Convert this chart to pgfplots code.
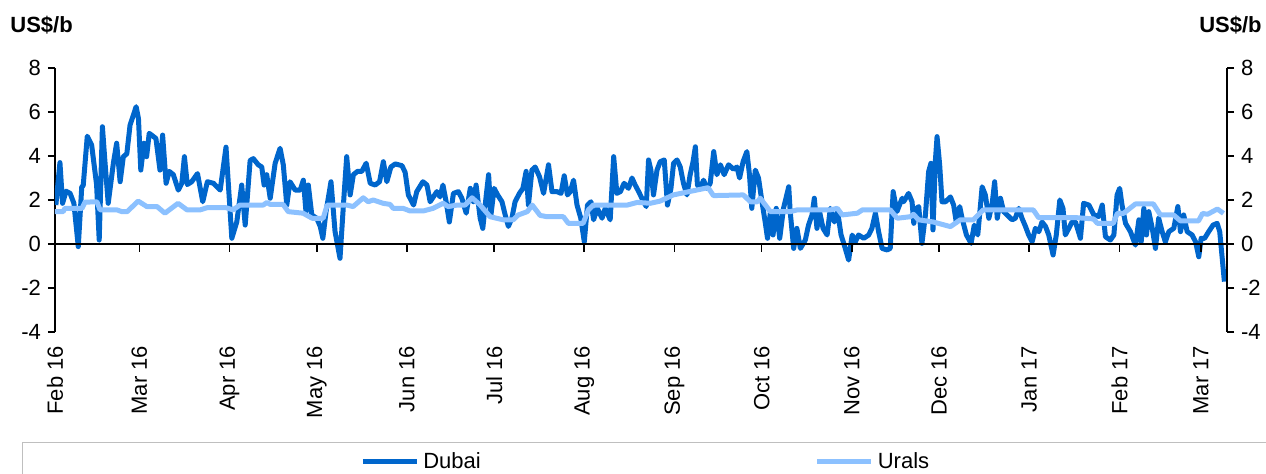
\documentclass[border=0pt]{standalone}
\usepackage{pgfplots}
\usepackage{pgfplotstable}
\pgfplotsset{compat=1.18}
\usepackage{fontspec}
\setmainfont{Liberation Sans}

\definecolor{dubaiblue}{RGB}{0,102,204}
\definecolor{uralsblue}{RGB}{140,193,255}

% day = days since 1 Feb 2016, val = US$/b
\pgfplotstableread{
day val
0.3 1.77
1.7 3.7
2.6 1.85
3.8 2.4
5.2 2.3
6.5 1.85
8.0 -0.12
9.2 2.6
9.7 2.65
11.1 4.9
12.6 4.5
14.3 2.7
15.2 0.18
16.3 5.33
17.2 3.7
18.3 1.85
20.1 3.7
21.2 4.58
22.4 2.83
23.5 3.97
24.7 4.1
25.8 5.4
27.9 6.24
28.7 5.7
29.5 3.36
30.6 4.58
31.5 3.97
32.4 5.03
34.7 4.8
36.1 3.36
37.0 4.95
38.2 2.76
39.3 3.3
40.7 3.15
42.4 2.45
43.6 2.76
44.5 3.97
45.5 2.7
47.0 2.83
49.0 3.2
50.8 1.92
52.4 2.83
54.5 2.76
56.8 2.45
58.8 4.4
60.8 0.26
62.5 1.0
64.2 2.68
65.4 0.86
67.1 3.8
68.2 3.88
69.9 3.6
71.1 3.5
71.9 2.68
72.8 3.15
74.0 2.08
75.7 3.67
77.4 4.35
78.5 3.6
79.7 1.77
80.8 2.83
82.6 2.45
84.3 2.45
85.4 2.9
86.3 1.47
87.1 2.68
88.3 1.32
90.0 1.17
91.2 0.8
92.1 0.26
93.2 1.47
94.9 2.83
96.3 0.56
98.0 -0.65
99.4 2.23
100.3 3.97
101.5 2.23
102.6 3.15
104.0 3.3
105.5 3.3
107.0 3.67
108.4 2.76
110.1 2.68
111.6 2.83
112.9 3.74
114.1 2.83
115.5 3.5
117.0 3.64
119.3 3.56
120.4 3.26
121.5 2.23
123.3 1.77
124.4 2.38
126.5 2.83
127.9 2.68
129.0 1.92
130.1 2.14
131.3 2.38
132.4 2.14
133.4 2.68
134.5 1.92
135.6 1.0
137.0 2.3
138.7 2.38
139.9 2.08
141.4 1.4
142.8 2.53
143.9 1.92
144.8 2.68
146.2 1.17
147.1 0.71
148.3 2.23
149.1 3.15
149.9 1.32
151.0 2.53
152.2 2.23
153.7 1.92
154.8 1.32
155.9 0.8
157.1 1.17
158.2 1.92
159.7 2.3
160.9 2.53
162.0 3.3
162.8 1.77
164.0 3.36
165.1 3.5
166.6 3.06
168.0 2.3
169.7 3.6
170.9 2.38
172.6 2.38
174.0 2.3
175.1 3.1
176.2 2.23
177.2 2.38
178.3 2.9
179.5 1.77
180.8 1.17
182.0 0.1
183.1 1.77
184.3 1.92
185.2 1.1
186.5 1.62
188.1 1.17
189.2 1.62
190.9 1.1
192.1 3.97
193.2 2.3
194.4 2.38
195.7 2.76
197.2 2.53
198.4 3.0
199.5 2.68
200.7 2.38
201.8 2.08
203.3 1.7
204.1 3.82
204.9 3.36
205.8 2.23
207.0 3.36
208.1 3.74
209.5 3.82
210.6 1.77
211.8 2.53
212.7 3.67
213.9 3.82
215.0 3.5
216.1 2.76
217.3 2.23
218.4 3.15
219.4 3.74
220.2 4.42
220.9 2.68
221.9 2.53
223.0 2.9
224.2 2.53
225.3 2.76
226.5 4.2
227.6 3.15
228.8 3.6
230.1 3.15
231.6 3.6
233.3 3.4
234.5 3.5
235.4 3.0
236.6 3.74
237.9 4.2
238.8 3.15
239.6 1.62
240.8 3.36
241.9 3.0
243.1 1.92
244.2 1.0
245.0 0.26
246.0 1.47
246.9 0.41
248.0 1.62
249.2 0.26
250.5 1.62
252.3 2.6
252.8 1.47
254.0 -0.2
255.1 0.71
256.3 -0.2
258.0 0.18
259.1 0.86
260.3 1.32
261.1 2.08
262.0 0.71
262.9 1.47
264.1 0.71
265.5 0.41
266.6 1.62
268.0 1.0
269.1 1.47
270.3 0.41
271.4 -0.05
272.9 -0.73
274.1 0.41
275.2 0.1
276.3 0.41
278.1 0.26
279.8 0.41
280.9 0.71
282.1 1.4
283.2 0.56
284.4 -0.2
286.1 -0.27
287.2 -0.2
288.2 2.38
289.5 1.47
291.3 2.08
291.8 1.92
293.5 2.3
294.7 1.92
295.3 0.94
296.2 1.62
297.0 1.7
298.1 0.03
299.3 1.32
300.4 3.29
301.2 3.67
301.9 0.64
302.7 3.74
303.3 4.88
304.2 3.6
305.0 1.92
306.2 1.92
307.9 2.14
309.0 1.77
309.9 1.0
311.1 1.7
311.9 1.17
313.4 0.41
315.0 0.03
316.1 0.86
317.3 0.41
318.8 2.6
319.9 2.23
321.1 1.17
322.2 1.77
323.1 2.83
324.0 1.17
325.1 2.08
326.2 1.47
327.4 1.32
329.1 1.1
330.2 1.17
331.4 1.62
332.5 1.17
333.7 0.8
334.8 0.41
336.0 0.1
337.1 0.71
338.3 0.56
339.4 1.0
340.6 0.8
341.7 0.41
343.2 -0.5
344.3 0.41
345.5 2.0
346.6 1.62
347.4 0.41
348.6 0.71
349.7 1.0
350.9 1.0
352.6 0.26
353.7 1.85
355.5 1.77
357.2 1.32
358.9 1.25
360.1 1.77
361.2 0.33
362.9 0.18
364.1 0.41
365.2 2.23
366.1 2.53
366.9 1.77
368.1 0.94
369.8 0.56
371.5 -0.05
372.7 1.1
373.5 0.1
374.4 1.62
375.3 0.41
376.1 1.47
377.3 0.71
378.4 -0.2
379.5 1.17
380.7 0.56
381.8 0.1
383.0 0.56
384.7 0.71
386.1 1.7
387.0 0.56
388.1 1.32
389.3 0.56
391.0 0.41
392.2 0.1
393.3 -0.58
394.1 0.26
395.3 0.26
396.7 0.56
398.2 0.86
399.6 0.94
400.5 0.56
402.1 -1.71
}\dubaidata

\pgfplotstableread{
day val
0 1.47
2.8 1.47
3.4 1.62
9.3 1.62
10.3 1.9
14.4 1.92
15.5 1.55
21.3 1.55
23.0 1.47
24.8 1.47
28.6 1.95
31.6 1.7
35.1 1.7
37.8 1.4
42.3 1.85
45.4 1.55
49.9 1.55
52.3 1.65
58.8 1.65
61.2 1.55
63.6 1.77
71.6 1.77
72.9 1.89
74.0 1.8
78.4 1.8
80.2 1.47
85.3 1.4
88.4 1.17
92.2 1.17
93.6 1.77
100.4 1.77
102.5 1.7
106.0 2.1
107.7 1.92
109.4 2.0
112.8 1.85
115.2 1.8
116.3 1.62
119.7 1.62
122.1 1.5
126.6 1.5
130.0 1.62
133.5 1.85
135.2 1.7
138.3 1.77
141.0 1.77
143.4 2.1
146.2 1.77
149.6 1.24
154.1 1.1
157.6 1.1
159.3 1.32
162.4 1.47
164.1 1.77
166.8 1.3
169.2 1.24
174.8 1.24
176.5 0.94
181.6 0.94
183.4 1.55
185.1 1.77
196.8 1.77
200.2 1.89
204.7 1.85
208.1 1.95
212.6 2.23
219.5 2.42
224.6 2.56
226.4 2.2
236.7 2.23
239.1 1.92
241.5 1.92
242.5 2.08
246.0 1.47
252.8 1.47
255.2 1.55
266.6 1.55
269.0 1.62
270.7 1.32
275.9 1.4
277.6 1.55
287.2 1.55
289.6 1.17
294.1 1.24
295.2 1.35
296.9 1.1
302.0 1.0
307.9 0.79
311.3 1.1
315.8 1.1
319.2 1.55
336.4 1.55
338.2 1.2
350.9 1.2
357.1 1.14
358.4 0.94
363.9 0.94
365.3 1.39
367.4 1.39
371.5 1.82
377.7 1.82
380.1 1.32
384.6 1.32
387.0 1.05
393.2 1.05
394.6 1.39
396.3 1.35
399.7 1.59
401.8 1.39
}\uralsdata

\pgfplotsset{
  chartframe/.style={
    scale only axis, width=586pt, height=132pt,
    at={(27.5pt,-166pt)}, anchor=south west,
    xmin=0, xmax=403, ymin=-4, ymax=8,
    ytick={-4,-2,...,8},
    xtick={0,29,60,90,121,151,182,213,243,274,304,335,366,394},
    tick align=outside, major tick length=3.5pt,
    axis line style={-, black, line width=0.8pt},
    tick style={black, line width=0.8pt},
    tick label style={font=\fontsize{11}{13}\selectfont},
    /pgf/number format/assume math mode=true,
  }
}

\begin{document}
\begin{tikzpicture}
% main axis: left scale, month labels, data
\begin{axis}[chartframe,
    axis y line*=left, axis x line*=bottom,
    x axis line style={draw=none}, x tick style={draw=none},
    xticklabels={Feb 16,Mar 16,Apr 16,May 16,Jun 16,Jul 16,Aug 16,Sep 16,Oct 16,Nov 16,Dec 16,Jan 17,Feb 17,Mar 17},
    xticklabel style={rotate=90, anchor=east},
    legend columns=2,
    legend cell align=left,
    legend style={at={(-0.0282,-0.4167)}, anchor=north west,
      draw=black!25, inner xsep=169pt, inner ysep=3pt,
      font=\fontsize{11}{13}\selectfont,
      /tikz/every even column/.append style={column sep=165pt}},
    legend image code/.code={\draw[#1] (0pt,0pt) -- (27pt,0pt);},
  ]
  \addplot[dubaiblue, line width=2.5pt, line join=round] table[x=day, y=val] {\dubaidata};
  \addlegendentry{Dubai}
  \addplot[uralsblue, line width=2.5pt, line join=round] table[x=day, y=val] {\uralsdata};
  \addlegendentry{Urals}
\end{axis}
% zero line with month ticks pointing down
\begin{axis}[chartframe,
    height=88pt, at={(27.5pt,-122pt)}, ymin=0, ymax=8,
    axis x line*=bottom, axis y line=none,
    xticklabels={}, major tick length=4pt,
  ]
\end{axis}
% right scale
\begin{axis}[chartframe,
    axis x line=none, axis y line*=right,
  ]
\end{axis}
\node[anchor=west, font=\bfseries\fontsize{11}{13}\selectfont, inner sep=0pt] at (5pt,-12.5pt) {US\$/b};
\node[anchor=east, font=\bfseries\fontsize{11}{13}\selectfont, inner sep=0pt] at (631pt,-12.5pt) {US\$/b};
\pgfresetboundingbox
\path[use as bounding box] (0pt,0pt) rectangle (633pt,-237pt);
\end{tikzpicture}
\end{document}
